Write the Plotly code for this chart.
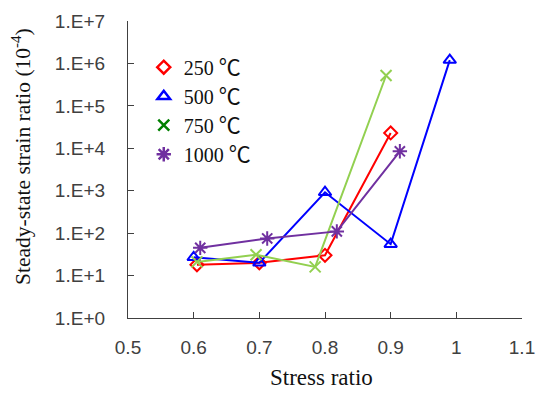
import plotly.graph_objects as go

series_names = ["250 ℃", "500 ℃", "750 ℃", "1000 ℃"]
x_250 = [0.605, 0.70, 0.80, 0.90]
y_250 = [18, 20, 30, 23000]
x_500 = [0.60, 0.70, 0.80, 0.90, 0.99]
y_500 = [27, 20, 920, 55, 1.2e6]
x_750 = [0.605, 0.695, 0.785, 0.893]
y_750 = [21, 31, 16, 5.2e5]
x_1000 = [0.61, 0.712, 0.818, 0.914]
y_1000 = [45, 75, 110, 8500]

y_tickvals = [1, 10, 100, 1e3, 1e4, 1e5, 1e6, 1e7]
y_ticktext = ["1.E+0", "1.E+1", "1.E+2", "1.E+3", "1.E+4", "1.E+5", "1.E+6", "1.E+7"]
x_tickvals = [0.5, 0.6, 0.7, 0.8, 0.9, 1.0, 1.1]
x_ticktext = ["0.5", "0.6", "0.7", "0.8", "0.9", "1", "1.1"]

line_colors = ["#FF0000", "#0000FF", "#92D050", "#7030A0"]
legend_colors = ["#FF0000", "#0000FF", "#008000", "#7030A0"]
symbols = ["diamond-open", "triangle-up-open", "x-thin-open", "asterisk-open"]
sizes = [10, 11, 11, 12]

data = [(x_250, y_250), (x_500, y_500), (x_750, y_750), (x_1000, y_1000)]

fig = go.Figure()
for i, (xs, ys) in enumerate(data):
    fig.add_trace(go.Scatter(
        x=xs, y=ys, mode="lines+markers", showlegend=False,
        line=dict(color=line_colors[i], width=2),
        marker=dict(symbol=symbols[i], size=sizes[i], color=line_colors[i],
                    line=dict(width=2, color=line_colors[i])),
    ))
for i, name in enumerate(series_names):
    num, unit = name.split(" ")
    fig.add_trace(go.Scatter(
        x=[None], y=[None], mode="markers",
        name=num + " <span style=\"font-family:'Noto Sans CJK SC';font-size:22px\">" + unit + "</span>",
        legendgroup="g%d" % i,
        marker=dict(symbol=symbols[i], size=sizes[i], color=legend_colors[i],
                    line=dict(width=2.5, color=legend_colors[i])),
    ))

axis_common = dict(showgrid=False, zeroline=False, showline=True, linecolor="#404040",
                   linewidth=1.3, ticks="inside", ticklen=6, tickcolor="#404040",
                   automargin=False,
                   tickfont=dict(family="Liberation Sans", size=19, color="#404040"))

fig.update_layout(
    width=550, height=399,
    margin=dict(l=120, r=36, t=13, b=89),
    paper_bgcolor="white", plot_bgcolor="white",
    showlegend=True,
    legend=dict(x=0.04, y=0.91, xanchor="left", yanchor="top",
                font=dict(family="Liberation Serif", size=20, color="#111"),
                bgcolor="rgba(0,0,0,0)", traceorder="grouped", tracegroupgap=0,
                itemwidth=30),
    xaxis=dict(range=[0.5, 1.1], tickvals=x_tickvals, ticktext=x_ticktext,
               ticklabelstandoff=12, **axis_common),
    yaxis=dict(type="log", range=[0, 7], tickvals=y_tickvals, ticktext=y_ticktext,
               ticklabelstandoff=18, **axis_common),
    annotations=[
        dict(text="Stress ratio", xref="paper", yref="paper", x=0.492, y=-0.202,
             showarrow=False, xanchor="center", yanchor="middle",
             font=dict(family="Liberation Serif", size=23, color="#111")),
        dict(text="Steady-state strain ratio (10<sup>-4</sup>)", xref="paper", yref="paper",
             x=-0.272, y=0.545, textangle=-90, showarrow=False,
             xanchor="center", yanchor="middle",
             font=dict(family="Liberation Serif", size=21.5, color="#111")),
    ],
)
fig.write_html("out.html")
